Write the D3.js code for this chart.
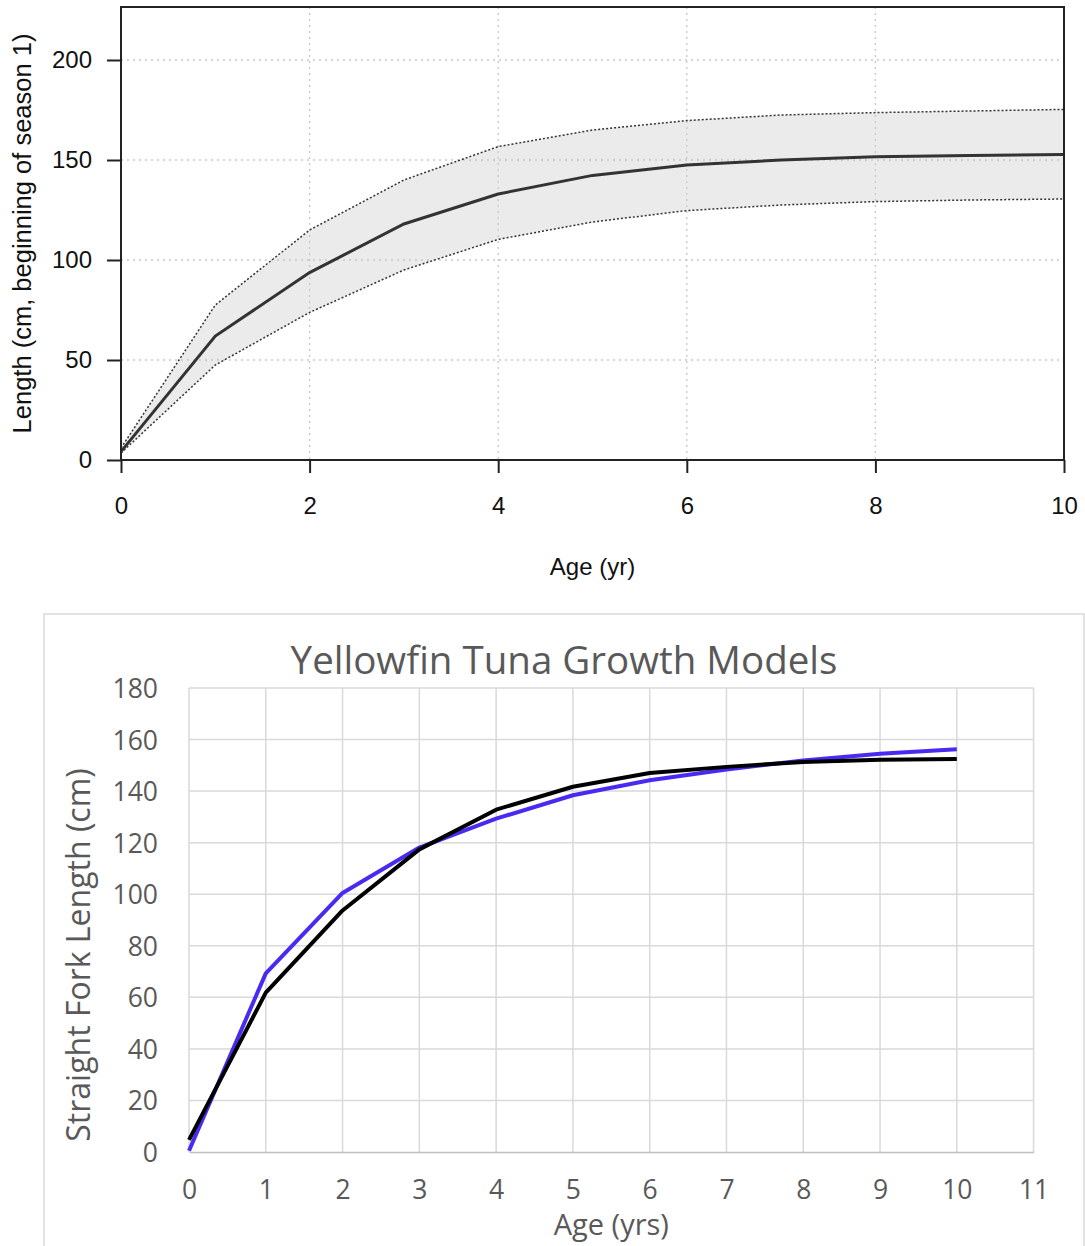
<!DOCTYPE html>
<html>
<head>
<meta charset="utf-8">
<script src="https://cdn.jsdelivr.net/npm/d3@7"></script>
<style>
  html, body { margin: 0; padding: 0; background: #fff; }
  svg { display: block; }
</style>
</head>
<body>
<svg id="chart" width="1085" height="1246"></svg>
<script>
// ---------- DATA ----------
// Top chart: growth curve with confidence band (R style)
const ages = [0, 1, 2, 3, 4, 5, 6, 7, 8, 9, 10];
const lengthMid   = [4.2, 62, 93.7, 118, 133, 142.3, 147.5, 150, 151.6, 152.2, 152.7];
const lengthUpper = [6, 77.5, 115, 140, 156.7, 165, 169.7, 172.5, 173.7, 174.5, 175.3];
const lengthLower = [3.5, 47.5, 73.8, 95, 110.3, 119, 124.7, 127.5, 129.2, 130, 130.5];
const topXTicks = [0, 2, 4, 6, 8, 10];
const topYTicks = [0, 50, 100, 150, 200];

// Bottom chart: Yellowfin Tuna Growth Models (Excel style)
const modelBlue  = [0.5, 69.3, 100.5, 118.1, 129.3, 138.4, 144.2, 148.4, 151.9, 154.5, 156.2];
const modelBlack = [4.7, 61.8, 93.7, 117.4, 132.8, 141.7, 147, 149.4, 151.3, 152.2, 152.5];
const botXTicks = [0, 1, 2, 3, 4, 5, 6, 7, 8, 9, 10, 11];
const botYTicks = [0, 20, 40, 60, 80, 100, 120, 140, 160, 180];

const svg = d3.select("#chart");
svg.append("rect").attr("x", 0).attr("y", 0).attr("width", 1085).attr("height", 1246).attr("fill", "#fff");

// ================= TOP CHART =================
const T = { left: 121, right: 1064, top: 7, bottom: 460 };
const xT = d3.scaleLinear().domain([0, 10]).range([T.left, T.right]);
const yT = d3.scaleLinear().domain([0, 226.5]).range([T.bottom, T.top]);
const gT = svg.append("g");

const bandData = ages.map((a, i) => ({ a, lo: lengthLower[i], hi: lengthUpper[i], mid: lengthMid[i] }));

gT.append("path")
  .datum(bandData)
  .attr("d", d3.area().x(d => xT(d.a)).y0(d => yT(d.lo)).y1(d => yT(d.hi)))
  .attr("fill", "#ebebeb");

// grid (dotted)
gT.append("g").selectAll("line").data(topXTicks.filter(v => v > 0 && v < 10)).join("line")
  .attr("x1", d => xT(d)).attr("x2", d => xT(d))
  .attr("y1", T.top).attr("y2", T.bottom)
  .attr("stroke", "#c8c8c8").attr("stroke-width", 1.3).attr("stroke-dasharray", "2,4");
gT.append("g").selectAll("line").data(topYTicks.filter(v => v > 0)).join("line")
  .attr("x1", T.left).attr("x2", T.right)
  .attr("y1", d => yT(d)).attr("y2", d => yT(d))
  .attr("stroke", "#c8c8c8").attr("stroke-width", 1.3).attr("stroke-dasharray", "2,4");

// band edges
const lineT = key => d3.line().x(d => xT(d.a)).y(d => yT(d[key]));
["hi", "lo"].forEach(k => {
  gT.append("path").datum(bandData).attr("d", lineT(k))
    .attr("fill", "none").attr("stroke", "#333").attr("stroke-width", 1.5)
    .attr("stroke-dasharray", "2,2");
});
gT.append("path").datum(bandData).attr("d", lineT("mid"))
  .attr("fill", "none").attr("stroke", "#333").attr("stroke-width", 3);

// box
gT.append("rect").attr("x", T.left).attr("y", T.top)
  .attr("width", T.right - T.left).attr("height", T.bottom - T.top)
  .attr("fill", "none").attr("stroke", "#222").attr("stroke-width", 2);

const topFont = "'Liberation Sans', Arial, Helvetica, sans-serif";
const axB = gT.append("g").attr("transform", `translate(0,${T.bottom})`)
  .call(d3.axisBottom(xT).tickValues(topXTicks).tickSize(13).tickPadding(24).tickFormat(d3.format("d")));
const axL = gT.append("g").attr("transform", `translate(${T.left},0)`)
  .call(d3.axisLeft(yT).tickValues(topYTicks).tickSize(14).tickPadding(15).tickFormat(d3.format("d")));
[axB, axL].forEach(ax => {
  ax.select(".domain").remove();
  ax.selectAll(".tick line").attr("stroke", "#222").attr("stroke-width", 2);
  ax.selectAll(".tick text").attr("fill", "#111").style("font-family", topFont).style("font-size", "24px");
});

gT.append("text").attr("x", (T.left + T.right) / 2).attr("y", 575)
  .attr("text-anchor", "middle").style("font-family", topFont).style("font-size", "24px").attr("fill", "#111")
  .text("Age (yr)");
gT.append("text").attr("transform", `translate(31,${(T.top + T.bottom) / 2}) rotate(-90)`)
  .attr("text-anchor", "middle").style("font-family", topFont).style("font-size", "25.5px").attr("fill", "#111")
  .text("Length (cm, beginning of season 1)");

// ================= BOTTOM CHART =================
const B = { left: 189, right: 1033.6, top: 688, bottom: 1152 };
const xB = d3.scaleLinear().domain([0, 11]).range([B.left, B.right]);
const yB = d3.scaleLinear().domain([0, 180]).range([B.bottom, B.top]);
const gB = svg.append("g");
const botFont = "'Open Sans', 'Noto Sans', sans-serif";

gB.append("rect").attr("x", 44).attr("y", 614).attr("width", 1040).attr("height", 660)
  .attr("fill", "#fff").attr("stroke", "#d9d9d9").attr("stroke-width", 1.5);

gB.append("g").selectAll("line").data(botXTicks).join("line")
  .attr("x1", d => xB(d)).attr("x2", d => xB(d)).attr("y1", B.top).attr("y2", B.bottom)
  .attr("stroke", "#d9d9d9").attr("stroke-width", 1.5);
gB.append("g").selectAll("line").data(botYTicks.filter(v => v > 0)).join("line")
  .attr("x1", B.left).attr("x2", B.right).attr("y1", d => yB(d)).attr("y2", d => yB(d))
  .attr("stroke", "#d9d9d9").attr("stroke-width", 1.5);

const bx = gB.append("g").attr("transform", `translate(0,${B.bottom})`)
  .call(d3.axisBottom(xB).tickValues(botXTicks).tickSize(0).tickPadding(28).tickFormat(d3.format("d")));
bx.select(".domain").attr("stroke", "#bfbfbf").attr("stroke-width", 1.5);
const by = gB.append("g").attr("transform", `translate(${B.left},0)`)
  .call(d3.axisLeft(yB).tickValues(botYTicks).tickSize(0).tickPadding(31).tickFormat(d3.format("d")));
by.select(".domain").remove();
[bx, by].forEach(ax => ax.selectAll(".tick text")
  .attr("fill", "#595959").style("font-family", botFont).style("font-size", "26.5px"));
by.selectAll(".tick text").attr("dy", "0.36em");

const lineB = d3.line().x((d, i) => xB(ages[i])).y(d => yB(d));
gB.append("path").datum(modelBlue).attr("d", lineB)
  .attr("fill", "none").attr("stroke", "#4a2af2").attr("stroke-width", 4).attr("stroke-linejoin", "round");
gB.append("path").datum(modelBlack).attr("d", lineB)
  .attr("fill", "none").attr("stroke", "#000").attr("stroke-width", 4).attr("stroke-linejoin", "round");

gB.append("text").attr("x", 564).attr("y", 674).attr("text-anchor", "middle")
  .style("font-family", botFont).style("font-size", "38.5px").attr("fill", "#595959")
  .text("Yellowfin Tuna Growth Models");
gB.append("text").attr("x", (B.left + B.right) / 2).attr("y", 1235).attr("text-anchor", "middle")
  .style("font-family", botFont).style("font-size", "29px").attr("fill", "#595959")
  .text("Age (yrs)");
gB.append("text").attr("transform", `translate(90,955) rotate(-90)`).attr("text-anchor", "middle")
  .style("font-family", botFont).style("font-size", "32px").attr("fill", "#595959")
  .text("Straight Fork Length (cm)");
</script>
</body>
</html>
